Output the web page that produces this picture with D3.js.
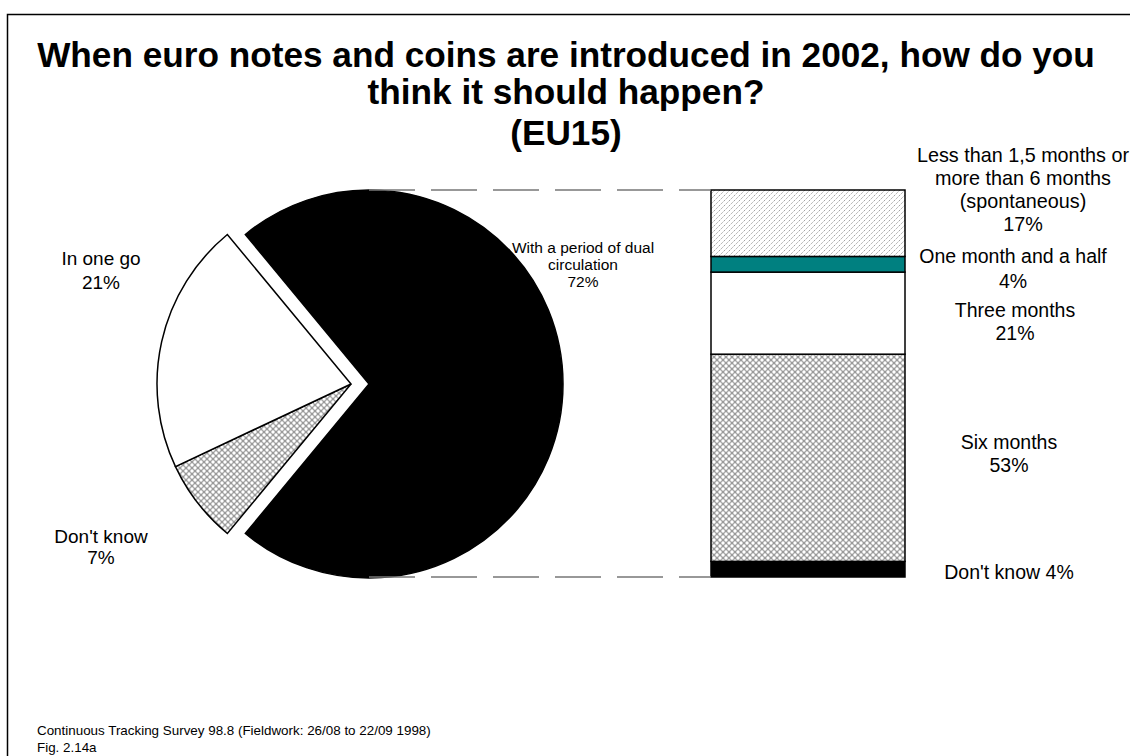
<!DOCTYPE html>
<html>
<head>
<meta charset="utf-8">
<script src="https://cdn.jsdelivr.net/npm/d3@7"></script>
<style>
  html, body { margin: 0; padding: 0; background: #fff; }
  svg { display: block; font-family: Arial, "Liberation Sans", sans-serif; }
</style>
</head>
<body>
<svg id="chart" width="1130" height="756"></svg>
<script>
// Pie: how the changeover should happen
const pieLabels = ["With a period of dual circulation", "Don't know", "In one go"];
const pieValues = [72, 7, 21];

// Stacked bar: length of the dual-circulation period (bottom to top)
const barLabels = ["Don't know", "Six months", "Three months", "One month and a half", "Less than 1,5 months or more than 6 months (spontaneous)"];
const barValues = [4, 53, 21, 4, 17];

const titleLines = ["When euro notes and coins are introduced in 2002, how do you", "think it should happen?", "(EU15)"];
const footerLines = ["Continuous Tracking Survey 98.8 (Fieldwork: 26/08 to 22/09 1998)", "Fig. 2.14a"];

const svg = d3.select("#chart");
const defs = svg.append("defs");

// fill patterns
const diag = defs.append("pattern").attr("id", "diag")
  .attr("patternUnits", "userSpaceOnUse").attr("width", 5).attr("height", 5);
diag.append("rect").attr("width", 5).attr("height", 5).attr("fill", "#fff");
diag.append("path").attr("d", "M-1,6 L6,-1 M-1,1 L1,-1 M4,6 L6,4")
  .attr("stroke", "#999").attr("stroke-width", 1).attr("stroke-dasharray", "1.4,1");

const weave = defs.append("pattern").attr("id", "weave")
  .attr("patternUnits", "userSpaceOnUse").attr("width", 6).attr("height", 6);
weave.append("rect").attr("width", 6).attr("height", 6).attr("fill", "#9a9a9a");
[[0,0],[6,0],[0,6],[6,6],[3,3]].forEach(([x,y]) =>
  weave.append("circle").attr("cx", x).attr("cy", y).attr("r", 1.7).attr("fill", "#fff"));

// frame
svg.append("rect").attr("x", 7.5).attr("y", 14.5).attr("width", 1200).attr("height", 800)
  .attr("fill", "none").attr("stroke", "#000").attr("stroke-width", 1.5);

// title
const title = svg.append("text").attr("text-anchor", "middle")
  .attr("font-weight", "bold").attr("font-size", 35.2).attr("fill", "#000");
[67, 104, 145].forEach((y, i) => title.append("tspan").attr("x", 566).attr("y", y).text(titleLines[i]));

// footer
footerLines.forEach((t, i) => svg.append("text").attr("x", 37).attr("y", 735 + i * 17)
  .attr("font-size", 13.4).attr("fill", "#000").text(t));

// ---- pie ----
const cx = 351, cy = 384, radius = 194, explode = 18;
const blackSpan = pieValues[0] / d3.sum(pieValues) * 2 * Math.PI;
const pie = d3.pie().sort(null).value(d => d)
  .startAngle(Math.PI / 2 - blackSpan / 2)
  .endAngle(Math.PI / 2 - blackSpan / 2 + 2 * Math.PI);
const arcs = pie(pieValues);
const arc = d3.arc().innerRadius(0).outerRadius(radius);
const pieFills = ["#000", "url(#weave)", "#fff"];
const pg = svg.append("g").attr("transform", `translate(${cx},${cy})`);
arcs.forEach((a, i) => {
  const mid = (a.startAngle + a.endAngle) / 2;
  const off = i === 0 ? explode : 0;
  pg.append("path").attr("d", arc(a))
    .attr("transform", `translate(${off * Math.sin(mid)},${-off * Math.cos(mid)})`)
    .attr("fill", pieFills[i]).attr("stroke", "#000").attr("stroke-width", 1.5)
    .attr("stroke-linejoin", "miter");
});

// ---- stacked bar ----
const barX0 = 711, barX1 = 905;
const y = d3.scaleLinear().domain([0, d3.sum(barValues)]).range([577, 190]);
const barFills = ["#000", "url(#weave)", "#fff", "#008080", "url(#diag)"];
let cum = 0;
const segs = barValues.map((v, i) => { const s = { v, i, y0: cum, y1: cum + v }; cum += v; return s; });
svg.append("g").selectAll("rect").data(segs).join("rect")
  .attr("x", barX0).attr("width", barX1 - barX0)
  .attr("y", d => y(d.y1)).attr("height", d => y(d.y0) - y(d.y1))
  .attr("fill", d => barFills[d.i]).attr("stroke", "#000").attr("stroke-width", 1.5);

// connector lines from the exploded slice to the bar
const blackTopX = cx + explode;
[d3.sum(barValues), 0].forEach(v => {
  svg.append("line").attr("x1", blackTopX).attr("x2", barX0)
    .attr("y1", y(v)).attr("y2", y(v))
    .attr("stroke", "#777").attr("stroke-width", 1.5).attr("stroke-dasharray", "46,16");
});

// ---- labels ----
function label(x, y0, lines, lh = 23, size = 19) {
  const t = svg.append("text").attr("text-anchor", "middle").attr("font-size", size).attr("fill", "#000");
  lines.forEach((l, i) => t.append("tspan").attr("x", x).attr("y", y0 + i * lh).text(l));
}
label(583, 253, ["With a period of dual", "circulation", pieValues[0] + "%"], 17, 15.5);
label(101, 265, [pieLabels[2], pieValues[2] + "%"], 24);
label(101, 543, [pieLabels[1], pieValues[1] + "%"], 21);

// bar labels, placed relative to their segment mid-points
const mid = s => (y(s.y0) + y(s.y1)) / 2;
label(1023, mid(segs[4]) - 61, ["Less than 1,5 months or", "more than 6 months", "(spontaneous)", barValues[4] + "%"], 23, 19.8);
label(1013, mid(segs[3]) - 1, [barLabels[3], barValues[3] + "%"], 25, 19.5);
label(1015, mid(segs[2]) + 4, [barLabels[2], barValues[2] + "%"], 23, 19.5);
label(1009, mid(segs[1]) - 9, [barLabels[1], barValues[1] + "%"], 23, 19.5);
label(1009, mid(segs[0]) + 10, [barLabels[0] + " " + barValues[0] + "%"], 23, 19.5);
</script>
</body>
</html>
